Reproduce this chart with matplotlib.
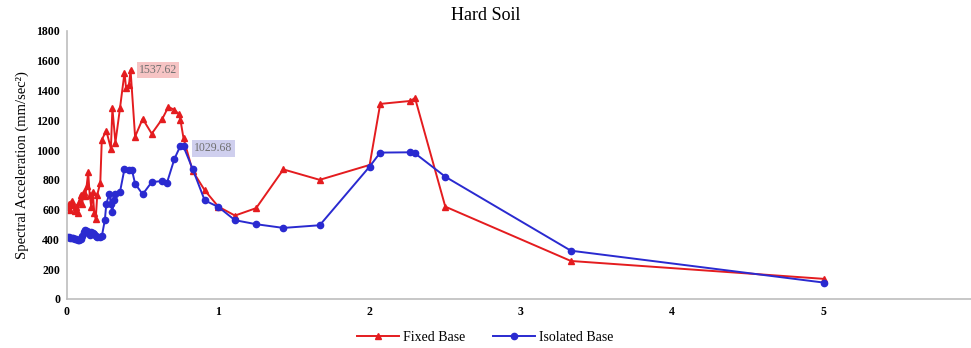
"""Response spectrum for hard soil: fixed base vs isolated base."""

import matplotlib

matplotlib.use("Agg")
import matplotlib.pyplot as plt

# period (s) and spectral acceleration (mm/sec^2)
period_fixed = [0.00, 0.01, 0.02, 0.03, 0.04, 0.05, 0.06, 0.07, 0.08, 0.09, 0.10,
                0.11, 0.12, 0.13, 0.14, 0.15, 0.16, 0.17, 0.18, 0.19, 0.20, 0.22,
                0.23, 0.26, 0.29, 0.30, 0.32, 0.35, 0.38, 0.39, 0.41, 0.42, 0.45,
                0.50, 0.56, 0.63, 0.67, 0.71, 0.74, 0.75, 0.77, 0.83, 0.91, 1.00,
                1.11, 1.25, 1.43, 1.67, 2.00, 2.07, 2.27, 2.30, 2.50, 3.33, 5.00]
accel_fixed = [620, 640, 600, 660, 630, 590, 620, 580, 650, 700, 640,
               720, 690, 760, 850, 700, 620, 720, 580, 540, 700, 780,
               1070, 1130, 1010, 1280, 1050, 1280, 1520, 1420, 1440, 1537.62, 1090,
               1210, 1110, 1210, 1290, 1270, 1240, 1200, 1080, 860, 730, 620,
               560, 610, 870, 800, 900, 1310, 1330, 1350, 620, 255, 135]

period_iso = [0.00, 0.01, 0.02, 0.03, 0.04, 0.05, 0.06, 0.07, 0.08, 0.09, 0.10,
              0.11, 0.12, 0.13, 0.14, 0.15, 0.16, 0.17, 0.18, 0.19, 0.20, 0.22,
              0.23, 0.25, 0.26, 0.28, 0.29, 0.30, 0.31, 0.32, 0.35, 0.38, 0.41,
              0.43, 0.45, 0.50, 0.56, 0.63, 0.66, 0.71, 0.75, 0.77, 0.83, 0.91,
              1.00, 1.11, 1.25, 1.43, 1.67, 2.00, 2.07, 2.27, 2.30, 2.50, 3.33, 5.00]
accel_iso = [415, 413, 410, 408, 406, 402, 400, 398, 395, 405, 420,
             450, 462, 455, 440, 430, 450, 445, 435, 425, 417, 413,
             420, 529, 640, 707, 636, 584, 662, 707, 718, 874, 868,
             863, 774, 703, 785, 792, 778, 941, 1029.68, 1024, 874, 662,
             618, 529, 502, 477, 495, 889, 983, 985, 978, 821, 324, 110]

RED = "#e41c1f"
BLUE = "#2a2ad0"
SERIF = ["Liberation Serif", "DejaVu Serif"]

plt.rcParams["font.family"] = SERIF

fig = plt.figure(figsize=(9.71, 3.48), dpi=100)
ax = fig.add_axes([0.069, 0.141, 0.935, 0.770])

ax.plot(period_fixed, accel_fixed, color=RED, lw=1.4, marker="^", ms=4.5,
        label="Fixed Base")
ax.plot(period_iso, accel_iso, color=BLUE, lw=1.4, marker="o", ms=4.5,
        label="Isolated Base")

# peak labels
i_f = accel_fixed.index(max(accel_fixed))
ax.annotate(f"{accel_fixed[i_f]:.2f}", (period_fixed[i_f], accel_fixed[i_f]),
            xytext=(6, 0), textcoords="offset points", fontsize=8.5, color="#707070",
            va="center", ha="left",
            bbox=dict(boxstyle="square,pad=0.2", fc="#f6c4c4", ec="none"))
i_i = accel_iso.index(max(accel_iso))
ax.annotate(f"{accel_iso[i_i]:.2f}", (period_iso[i_i], accel_iso[i_i]),
            xytext=(10, -2), textcoords="offset points", fontsize=8.5, color="#707070",
            va="center", ha="left",
            bbox=dict(boxstyle="square,pad=0.2", fc="#cfcfee", ec="none"))

ax.set_xlim(0, 6)
ax.set_ylim(0, 1800)
ax.set_yticks(range(0, 1801, 200))
ax.set_xticks(range(0, 7))
ax.tick_params(length=0, labelsize=8.5, pad=5)
for lab in ax.get_xticklabels() + ax.get_yticklabels():
    lab.set_fontweight("bold")

for side in ("top", "right"):
    ax.spines[side].set_visible(False)
for side in ("left", "bottom"):
    ax.spines[side].set_color("#bdbdbd")
    ax.spines[side].set_linewidth(1.2)

ax.set_ylabel("Spectral Acceleration (mm/sec²)", fontsize=10.5, labelpad=5)
fig.text(0.5, 0.955, "Hard Soil", ha="center", va="center", fontsize=13)

fig.legend(loc="center", bbox_to_anchor=(0.5, 0.03), ncol=2, frameon=False,
           fontsize=10, handlelength=3, columnspacing=2.0, handletextpad=0.3)

fig.savefig("out.png", dpi=100)
